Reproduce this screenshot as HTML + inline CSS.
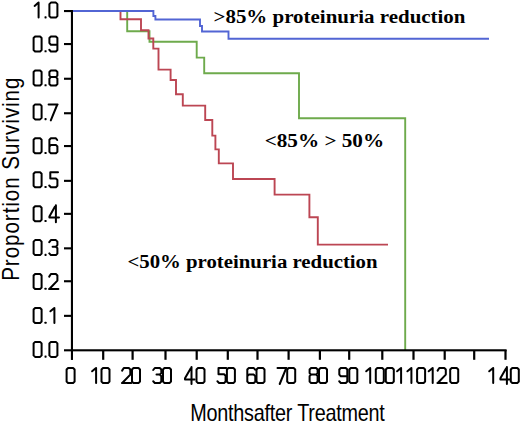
<!DOCTYPE html>
<html><head><meta charset="utf-8"><title>Kaplan-Meier survival by proteinuria reduction</title>
<style>html,body{margin:0;padding:0;background:#fff;width:520px;height:424px;overflow:hidden}svg{display:block}</style>
</head><body>
<svg width="520" height="424" viewBox="0 0 520 424">
<rect x="0" y="0" width="520" height="424" fill="#fff"/>
<polyline fill="none" stroke="#6eaa4c" stroke-width="1.9" stroke-linejoin="miter" stroke-linecap="butt" points="72.0,11.0 127.2,11.0 127.2,31.2 149.5,31.2 149.5,41.8 196.7,41.8 196.7,57.6 204.2,57.6 204.2,73.3 299.0,73.3 299.0,118.3 405.2,118.3 405.2,350.0"/>
<polyline fill="none" stroke="#bc4653" stroke-width="1.9" stroke-linejoin="miter" stroke-linecap="butt" points="72.0,11.0 120.5,11.0 120.5,19.3 141.0,19.3 141.0,30.3 148.5,30.3 148.5,38.5 153.3,38.5 153.3,48.6 158.5,48.6 158.5,69.6 170.6,69.6 170.6,80.0 176.0,80.0 176.0,94.3 182.8,94.3 182.8,105.6 205.2,105.6 205.2,120.0 212.3,120.0 212.3,135.6 215.4,135.6 215.4,149.4 218.8,149.4 218.8,163.4 233.0,163.4 233.0,179.0 274.6,179.0 274.6,194.6 309.4,194.6 309.4,217.2 317.8,217.2 317.8,244.6 388.0,244.6"/>
<polyline fill="none" stroke="#5265d4" stroke-width="1.9" stroke-linejoin="miter" stroke-linecap="butt" points="72.0,11.0 153.4,11.0 153.4,16.0 155.4,16.0 155.4,19.5 200.0,19.5 200.0,26.0 202.0,26.0 202.0,31.5 228.5,31.5 228.5,38.8 489.0,38.8"/>
<g fill="#000">
<rect x="70.9" y="10.05" width="2.1" height="349.9"/>
<rect x="64" y="349.25" width="442.6" height="2.1"/>
<rect x="64" y="314.8" width="8" height="2.1"/>
<rect x="64" y="280.2" width="8" height="2.1"/>
<rect x="64" y="247.3" width="8" height="2.1"/>
<rect x="64" y="212.8" width="8" height="2.1"/>
<rect x="64" y="179.8" width="8" height="2.1"/>
<rect x="64" y="145.0" width="8" height="2.1"/>
<rect x="64" y="112.2" width="8" height="2.1"/>
<rect x="64" y="77.7" width="8" height="2.1"/>
<rect x="64" y="43.0" width="8" height="2.1"/>
<rect x="64" y="10.0" width="8" height="2.1"/>
<rect x="102.1" y="350" width="2.2" height="9.8"/>
<rect x="131.5" y="350" width="2.2" height="9.8"/>
<rect x="164.4" y="350" width="2.2" height="9.8"/>
<rect x="195.6" y="350" width="2.2" height="9.8"/>
<rect x="226.7" y="350" width="2.2" height="9.8"/>
<rect x="256.4" y="350" width="2.2" height="9.8"/>
<rect x="287.5" y="350" width="2.2" height="9.8"/>
<rect x="318.8" y="350" width="2.2" height="9.8"/>
<rect x="348.1" y="350" width="2.2" height="9.8"/>
<rect x="381.2" y="350" width="2.2" height="9.8"/>
<rect x="412.4" y="350" width="2.2" height="9.8"/>
<rect x="443.6" y="350" width="2.2" height="9.8"/>
<rect x="473.1" y="350" width="2.2" height="9.8"/>
<rect x="504.4" y="350" width="2.2" height="9.8"/>
</g>
<defs><path id="g0" d="M2.5,1H7.5L9,2.5V14.5L7.5,16H2.5L1,14.5V2.5Z"/><path id="g1" d="M2,4.3L5.6,1.2M6,1V16"/><path id="g2" d="M0.8,3.6L2.5,1H7.5L9,2.5V7.6L1.2,15.8M0.6,16H10"/><path id="g3" d="M0.9,3L2.5,1H7.5L9,2.5V6L7.5,7.6H4.2M7.5,7.6L9,9.2V14.5L7.5,16H2.5L0.9,14.3"/><path id="g4" d="M7.5,0V17M6.6,1.4L1,11.3V12.4H10.6"/><path id="g5" d="M9.6,1H1.9V7.3H7.5L9,8.8V14.5L7.5,16H2.5L0.8,14.3"/><path id="g6" d="M8.8,2.7L7.5,1H2.5L1,2.5V14.5L2.5,16H7.5L9,14.5V9.2L7.5,7.6H2.6L1,9.2"/><path id="g7" d="M0.2,1H9.2M8.7,1.6L2.4,17"/><path id="g8" d="M2.5,1H7.5L9,2.5V6.1L7.5,7.6H2.5L1,6.1V2.5ZM2.5,7.6L1,9.1V14.5L2.5,16H7.5L9,14.5V9.1L7.5,7.6"/><path id="g9" d="M9,9.2H2.5L1,7.6V2.5L2.5,1H7.5L9,2.5V14.5L7.5,16H2.5L0.9,14.3"/></defs>
<g fill="none" stroke="#000" stroke-width="2" stroke-linejoin="round" stroke-linecap="round">
<use href="#g0" x="32.6" y="340.9"/>
<use href="#g0" x="48.4" y="340.9"/>
<use href="#g0" x="32.6" y="307.0"/>
<use href="#g1" x="48.4" y="307.0"/>
<use href="#g0" x="32.6" y="273.0"/>
<use href="#g2" x="48.4" y="273.0"/>
<use href="#g0" x="32.6" y="239.1"/>
<use href="#g3" x="48.4" y="239.1"/>
<use href="#g0" x="32.6" y="205.2"/>
<use href="#g4" x="48.4" y="205.2"/>
<use href="#g0" x="32.6" y="171.2"/>
<use href="#g5" x="48.4" y="171.2"/>
<use href="#g0" x="32.6" y="137.3"/>
<use href="#g6" x="48.4" y="137.3"/>
<use href="#g0" x="32.6" y="103.4"/>
<use href="#g7" x="48.4" y="103.4"/>
<use href="#g0" x="32.6" y="69.5"/>
<use href="#g8" x="48.4" y="69.5"/>
<use href="#g0" x="32.6" y="35.5"/>
<use href="#g9" x="48.4" y="35.5"/>
<use href="#g1" x="32.6" y="1.6"/>
<use href="#g0" x="48.4" y="1.6"/>
<use href="#g0" x="65.6" y="367"/>
<use href="#g1" x="90.1" y="367"/>
<use href="#g0" x="100.5" y="367"/>
<use href="#g2" x="121.3" y="367"/>
<use href="#g0" x="131.0" y="367"/>
<use href="#g3" x="152.3" y="367"/>
<use href="#g0" x="162.0" y="367"/>
<use href="#g4" x="184.0" y="367"/>
<use href="#g0" x="195.5" y="367"/>
<use href="#g5" x="216.6" y="367"/>
<use href="#g0" x="225.9" y="367"/>
<use href="#g6" x="246.3" y="367"/>
<use href="#g0" x="255.5" y="367"/>
<use href="#g7" x="277.3" y="367"/>
<use href="#g0" x="286.2" y="367"/>
<use href="#g8" x="308.6" y="367"/>
<use href="#g0" x="318.0" y="367"/>
<use href="#g9" x="338.3" y="367"/>
<use href="#g0" x="348.3" y="367"/>
<use href="#g1" x="364.2" y="367"/>
<use href="#g0" x="374.8" y="367"/>
<use href="#g0" x="384.8" y="367"/>
<use href="#g1" x="395.1" y="367"/>
<use href="#g1" x="405.4" y="367"/>
<use href="#g0" x="416.1" y="367"/>
<use href="#g1" x="426.7" y="367"/>
<use href="#g2" x="436.8" y="367"/>
<use href="#g0" x="449.2" y="367"/>
<use href="#g1" x="487.2" y="367"/>
<use href="#g4" x="499.4" y="367"/>
<use href="#g0" x="509.8" y="367"/>
</g>
<g fill="#000">
<rect x="44.5" y="355.6" width="2.1" height="2.1" rx="0.6"/>
<rect x="44.5" y="321.7" width="2.1" height="2.1" rx="0.6"/>
<rect x="44.5" y="287.7" width="2.1" height="2.1" rx="0.6"/>
<rect x="44.5" y="253.8" width="2.1" height="2.1" rx="0.6"/>
<rect x="44.5" y="219.9" width="2.1" height="2.1" rx="0.6"/>
<rect x="44.5" y="185.9" width="2.1" height="2.1" rx="0.6"/>
<rect x="44.5" y="152.0" width="2.1" height="2.1" rx="0.6"/>
<rect x="44.5" y="118.1" width="2.1" height="2.1" rx="0.6"/>
<rect x="44.5" y="84.2" width="2.1" height="2.1" rx="0.6"/>
<rect x="44.5" y="50.2" width="2.1" height="2.1" rx="0.6"/>
<rect x="44.5" y="16.3" width="2.1" height="2.1" rx="0.6"/>
</g>
<text transform="translate(190.2,420.8) scale(0.84,1)" x="0" y="0" font-family="Liberation Sans, sans-serif" font-size="23.6" textLength="231.7" lengthAdjust="spacing">Monthsafter Treatment</text>
<text transform="translate(18.6,280.8) rotate(-90) scale(0.88,1)" x="0" y="0" font-family="Liberation Sans, sans-serif" font-size="23.4" textLength="231.0" lengthAdjust="spacing">Proportion Surviving</text>
<g font-family="Liberation Serif, serif" font-weight="bold" font-size="18" fill="#000">
<text x="213.5" y="22.6" textLength="252" lengthAdjust="spacingAndGlyphs">&gt;85% proteinuria reduction</text>
<text x="264.7" y="146.6" textLength="119.4" lengthAdjust="spacingAndGlyphs">&lt;85% &gt; 50%</text>
<text x="127.4" y="268" textLength="250.2" lengthAdjust="spacingAndGlyphs">&lt;50% proteinuria reduction</text>
</g>
</svg>
</body></html>
